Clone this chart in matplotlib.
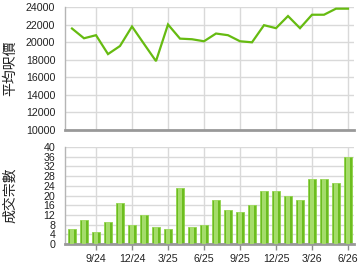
import matplotlib
matplotlib.use("Agg")
import matplotlib.pyplot as plt

plt.rcParams['font.family'] = ['Liberation Sans', 'Noto Sans CJK TC', 'DejaVu Sans']

months = ['7/24', '8/24', '9/24', '10/24', '11/24', '12/24', '1/25', '2/25', '3/25',
          '4/25', '5/25', '6/25', '7/25', '8/25', '9/25', '10/25', '11/25', '12/25',
          '1/26', '2/26', '3/26', '4/26', '5/26', '6/26']
avg_price = [21550, 20440, 20790, 18640, 19560, 21780, 19800, 17840, 22010,
             20400, 20330, 20100, 20980, 20790, 20100, 19980, 21930, 21590,
             22970, 21590, 23120, 23120, 23810, 23810]
deals = [6, 10, 5, 9, 17, 8, 12, 7, 6, 23, 7, 8, 18, 14, 13, 16, 22, 22,
         20, 18, 27, 27, 25, 36]
tick_labels = ['9/24', '12/24', '3/25', '6/25', '9/25', '12/25', '3/26', '6/26']

x = list(range(len(months)))
tick_pos = [months.index(t) for t in tick_labels]

fig = plt.figure(figsize=(3.6, 2.7), dpi=100)
ax1 = fig.add_axes([65 / 360, 1 - 130 / 270, 289 / 360, 123 / 270])
ax2 = fig.add_axes([65 / 360, 1 - 244 / 270, 289 / 360, 97 / 270])

grid_col = '#d9d9d9'
for ax in (ax1, ax2):
    ax.set_xlim(-7 / 12, 23.5)
    ax.set_xticks(tick_pos)
    ax.grid(True, color=grid_col, linewidth=1)
    ax.set_axisbelow(True)
    for s in ('top', 'right'):
        ax.spines[s].set_visible(False)
    ax.spines['left'].set_color('#b5b5b5')
    ax.spines['left'].set_linewidth(1)
    ax.spines['bottom'].set_color('#999999')
    ax.spines['bottom'].set_linewidth(2)
    ax.tick_params(axis='y', length=0, pad=7, labelsize=7.7, colors='#222222')

# top: average price per sq ft
ax1.plot(x, avg_price, color='#66bb11', linewidth=1.6, solid_joinstyle='miter')
ax1.set_ylim(10000, 24000)
ax1.set_yticks(range(10000, 24001, 2000))
ax1.tick_params(axis='x', length=0, labelbottom=False)
ax1.set_ylabel('平均呎價', fontsize=10, family=['Noto Sans CJK TC'], color='#222222')
ax1.yaxis.set_label_coords(-48 / 289, 0.5)

# bottom: number of transactions
ax2.bar(x, deals, width=0.68, color='#6cbd1f', edgecolor='#8fd24a', linewidth=0.6, zorder=2)
ax2.bar(x, deals, width=0.3, color='#a5dc6a', linewidth=0, zorder=3)
ax2.set_ylim(0, 40)
ax2.set_yticks(range(0, 41, 4))
ax2.set_xticklabels(tick_labels)
ax2.tick_params(axis='x', length=4, width=1, color='#8c8c8c', labelsize=7.7, colors='#222222', pad=3)
ax2.set_ylabel('成交宗數', fontsize=10, family=['Noto Sans CJK TC'], color='#222222')
ax2.yaxis.set_label_coords(-48 / 289, 0.5)

fig.savefig('out.png', dpi=100)
